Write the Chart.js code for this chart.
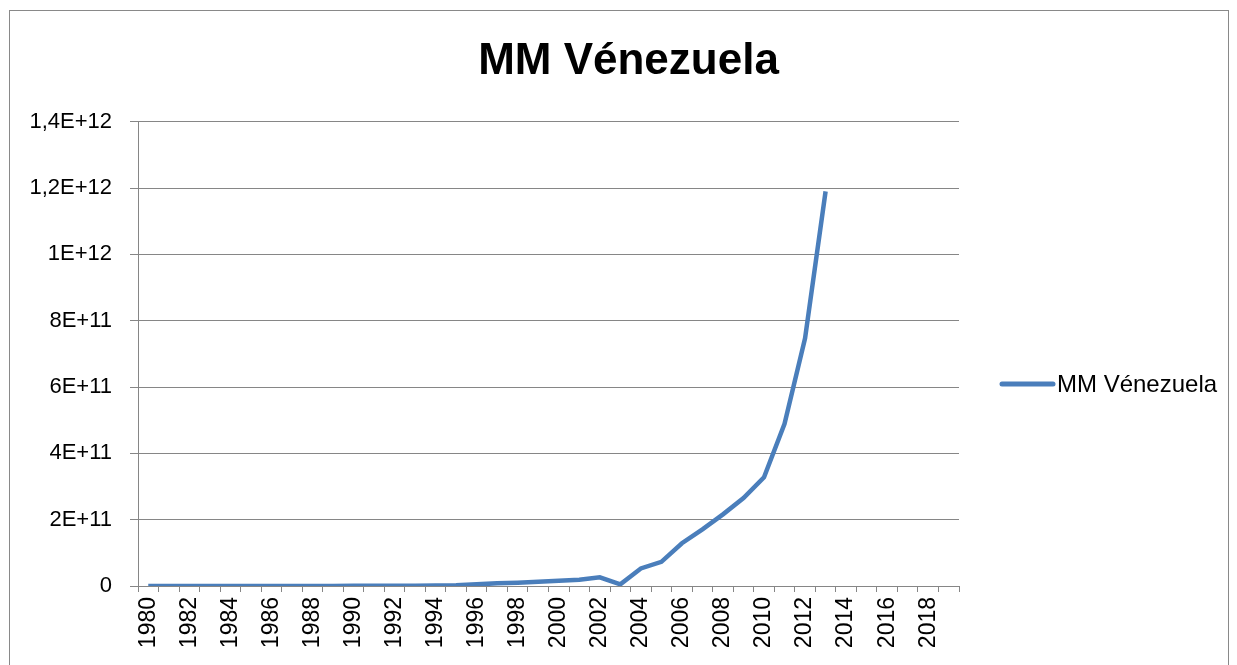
<!DOCTYPE html>
<html>
<head>
<meta charset="utf-8">
<title>MM Vénezuela</title>
<script src="https://cdn.jsdelivr.net/npm/chart.js@4/dist/chart.umd.min.js"></script>
<style>
    html, body { margin: 0; padding: 0; background: #fff; overflow: hidden; }
    #wrap { position: relative; width: 1237px; height: 665px; }
    #frame { position: absolute; left: 9px; top: 10px; width: 1218px; height: 670px; border: 1px solid #898989; pointer-events: none; }
    canvas { position: absolute; left: 0; top: 0; }
</style>
</head>
<body>
<div id="wrap">
    <canvas id="chart" width="1237" height="665"></canvas>
    <div id="frame"></div>
</div>
<script>
// --- Data ---
const years = [];
for (let y = 1980; y <= 2019; y++) years.push(String(y));

const seriesName = 'MM Vénezuela';
const mmValues = [
    5e7, 6e7, 7e7, 8e7, 9e7, 1e8, 1.2e8, 1.5e8, 2e8, 3e8,
    4e8, 6e8, 8e8, 1e9, 1.6e9, 2.5e9, 5e9, 8e9, 1e10, 1.3e10,
    1.6e10, 1.9e10, 2.6e10, 5e9, 5.3e10, 7.3e10, 1.29e11, 1.71e11, 2.16e11, 2.65e11,
    3.28e11, 4.89e11, 7.47e11, 1.19e12, null, null, null, null, null, null
];
const yTickLabels = ['0', '2E+11', '4E+11', '6E+11', '8E+11', '1E+12', '1,2E+12', '1,4E+12'];

const FONT = "'Liberation Sans', Arial, sans-serif";
const LINE_BLUE = '#4a7ebb';
const AXIS_GREY = '#868686';

// --- Legend drawn on the right, like Excel ---
const sideLegend = {
    id: 'sideLegend',
    afterDraw(chart) {
        const ctx = chart.ctx;
        const ds = chart.data.datasets[0];
        const y = 384;
        ctx.save();
        ctx.strokeStyle = ds.borderColor;
        ctx.lineWidth = 5;
        ctx.lineCap = 'round';
        ctx.beginPath();
        ctx.moveTo(1002, y);
        ctx.lineTo(1053, y);
        ctx.stroke();
        ctx.fillStyle = '#000';
        ctx.font = '24px ' + FONT;
        ctx.textBaseline = 'middle';
        ctx.fillText(ds.label, 1057, y + 1);
        ctx.restore();
    }
};

new Chart(document.getElementById('chart'), {
    type: 'line',
    data: {
        labels: years,
        datasets: [{
            label: seriesName,
            data: mmValues,
            borderColor: LINE_BLUE,
            borderWidth: 4.5,
            pointRadius: 0,
            tension: 0,
            spanGaps: false
        }]
    },
    options: {
        responsive: false,
        animation: false,
        layout: { padding: { left: 20, right: 0, top: 0, bottom: 0 } },
        plugins: {
            legend: { display: false },
            tooltip: { enabled: false },
            title: {
                display: true,
                text: seriesName,
                color: '#000',
                font: { family: FONT, size: 44, weight: 'bold' },
                padding: { top: 35, bottom: 34 }
            }
        },
        scales: {
            x: {
                offset: true,
                grid: { offset: true, drawOnChartArea: false, drawTicks: true, tickLength: 6, color: AXIS_GREY },
                border: { color: AXIS_GREY, width: 1 },
                ticks: {
                    autoSkip: false,
                    maxRotation: 90,
                    minRotation: 90,
                    padding: 5,
                    color: '#000',
                    font: { family: FONT, size: 23 },
                    callback: (v, i) => (i % 2 === 0 ? years[i] : '')
                },
                afterFit: scale => { scale.height = 79; }
            },
            y: {
                min: 0,
                max: 1.4e12,
                grid: { color: AXIS_GREY, tickLength: 8, lineWidth: 1 },
                border: { color: AXIS_GREY, width: 1 },
                ticks: {
                    stepSize: 2e11,
                    padding: 18,
                    color: '#000',
                    font: { family: FONT, size: 22 },
                    callback: (v, i) => yTickLabels[i]
                },
                afterFit: scale => { scale.width = 118; }
            },
            // empty right-hand axis that only reserves room for the legend
            yLegendSpace: {
                position: 'right',
                display: true,
                grid: { display: false, drawTicks: false },
                border: { display: false },
                ticks: { display: false },
                afterFit: scale => { scale.width = 278; }
            }
        }
    },
    plugins: [sideLegend]
});
</script>
</body>
</html>
